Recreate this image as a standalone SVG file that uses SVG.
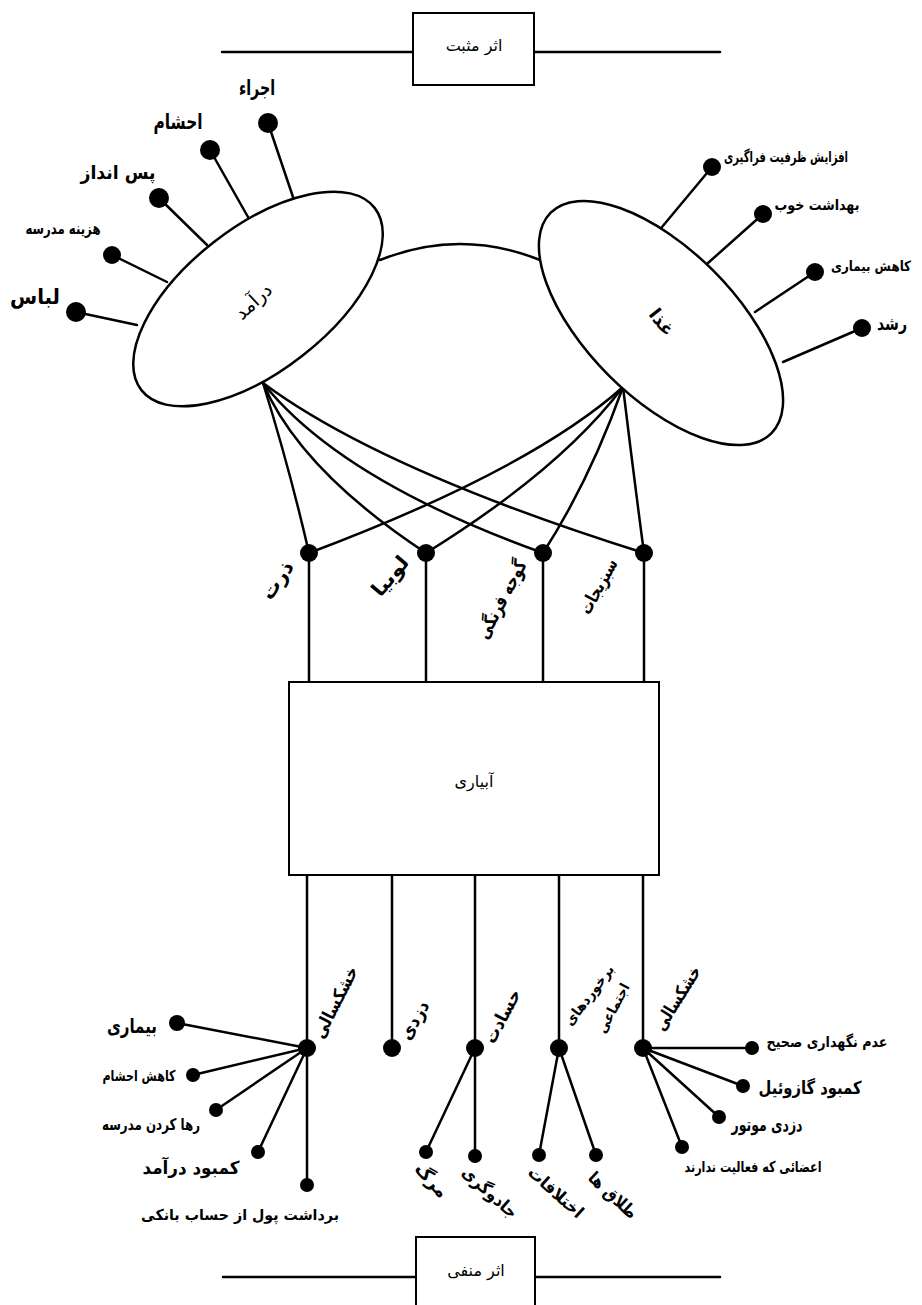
<svg xmlns="http://www.w3.org/2000/svg" width="922" height="1305" viewBox="0 0 922 1305">
<style>
.ln{stroke:#000;stroke-width:2.5;fill:none;stroke-linecap:round}
.bx{stroke:#000;stroke-width:2;fill:#fff}
.el{stroke:#000;stroke-width:2.5;fill:#fff}
.dot{fill:#000}
.t{font-family:"DejaVu Sans",sans-serif;font-weight:bold;fill:#000;text-anchor:middle;dominant-baseline:central}
.n{font-weight:normal}
.tb{font-family:"DejaVu Sans",sans-serif;fill:#000;text-anchor:middle;dominant-baseline:central;font-size:16px}
</style>
<rect width="922" height="1305" fill="#fff"/>

<g id="connectors">
  <line class="ln" x1="222" y1="52" x2="413" y2="52"/>
  <line class="ln" x1="534" y1="52" x2="720" y2="52"/>
  <line class="ln" x1="223" y1="1277" x2="416" y2="1277"/>
  <line class="ln" x1="535" y1="1277" x2="720" y2="1277"/>
  <path class="ln" d="M380,260 Q460,228 540,260"/>
  <line class="ln" x1="268" y1="123" x2="293" y2="197"/>
  <line class="ln" x1="210" y1="150" x2="248" y2="217"/>
  <line class="ln" x1="159" y1="198" x2="207" y2="245"/>
  <line class="ln" x1="112" y1="255" x2="167" y2="282"/>
  <line class="ln" x1="76" y1="312" x2="137" y2="325"/>
  <line class="ln" x1="712" y1="167" x2="662" y2="227"/>
  <line class="ln" x1="763" y1="214" x2="708" y2="263"/>
  <line class="ln" x1="815" y1="272" x2="755" y2="312"/>
  <line class="ln" x1="862" y1="328" x2="783" y2="362"/>
  <path class="ln" d="M263,383 Q290,470 309,553"/>
  <path class="ln" d="M263,383 Q300,470 426,553"/>
  <path class="ln" d="M263,383 Q340,480 543,553"/>
  <path class="ln" d="M263,383 Q380,470 644,553"/>
  <path class="ln" d="M623,387 Q530,470 309,553"/>
  <path class="ln" d="M623,387 Q560,470 426,553"/>
  <path class="ln" d="M623,387 Q590,480 543,553"/>
  <path class="ln" d="M623,387 Q633,470 644,553"/>
  <line class="ln" x1="309" y1="553" x2="309" y2="682"/>
  <line class="ln" x1="426" y1="553" x2="426" y2="682"/>
  <line class="ln" x1="543" y1="553" x2="543" y2="682"/>
  <line class="ln" x1="644" y1="553" x2="644" y2="682"/>
  <line class="ln" x1="307" y1="875" x2="307" y2="1185"/>
  <line class="ln" x1="392" y1="875" x2="392" y2="1048"/>
  <line class="ln" x1="475" y1="875" x2="475" y2="1156"/>
  <line class="ln" x1="559" y1="875" x2="559" y2="1048"/>
  <line class="ln" x1="643" y1="875" x2="643" y2="1048"/>
  <line class="ln" x1="307" y1="1048" x2="177" y2="1023"/>
  <line class="ln" x1="307" y1="1048" x2="193" y2="1075"/>
  <line class="ln" x1="307" y1="1048" x2="216" y2="1110"/>
  <line class="ln" x1="307" y1="1048" x2="258" y2="1152"/>
  <line class="ln" x1="475" y1="1048" x2="426" y2="1152"/>
  <line class="ln" x1="559" y1="1048" x2="539" y2="1155"/>
  <line class="ln" x1="559" y1="1048" x2="596" y2="1155"/>
  <line class="ln" x1="643" y1="1048" x2="752" y2="1048"/>
  <line class="ln" x1="643" y1="1048" x2="743" y2="1086"/>
  <line class="ln" x1="643" y1="1048" x2="719" y2="1117"/>
  <line class="ln" x1="643" y1="1048" x2="682" y2="1147"/>
</g>

<g id="positive">
  <rect class="bx" x="413" y="13" width="121" height="72"/>
  <text class="tb" x="474" y="45" font-size="17">اثر مثبت</text>
</g>

<g id="income">
  <ellipse class="el" cx="258" cy="299" rx="148" ry="72" transform="rotate(-38 258 299)"/>
  <text class="t n" x="253" y="301" font-size="19" transform="rotate(-43 253 301)">درآمد</text>
</g>

<g id="food">
  <ellipse class="el" cx="661" cy="323" rx="156" ry="74" transform="rotate(45 661 323)"/>
  <text class="t" x="662" y="322" font-size="18" transform="rotate(52 662 322)">غذا</text>
</g>

<g id="income-items">
  <circle class="dot" cx="268" cy="123" r="10"/><text class="t" x="257" y="88" font-size="21" textLength="36" lengthAdjust="spacingAndGlyphs">اجراء</text>
  <circle class="dot" cx="210" cy="150" r="10"/><text class="t" x="178" y="122" font-size="21" textLength="49" lengthAdjust="spacingAndGlyphs">احشام</text>
  <circle class="dot" cx="159" cy="198" r="10"/><text class="t" x="118" y="172" font-size="19" textLength="75" lengthAdjust="spacingAndGlyphs">پس انداز</text>
  <circle class="dot" cx="112" cy="255" r="9"/><text class="t" x="63" y="228" font-size="16" textLength="75" lengthAdjust="spacingAndGlyphs">هزینه مدرسه</text>
  <circle class="dot" cx="76" cy="312" r="10"/><text class="t" x="35" y="297" font-size="21" textLength="50" lengthAdjust="spacingAndGlyphs">لباس</text>
</g>

<g id="food-items">
  <circle class="dot" cx="712" cy="167" r="9"/><text class="t" x="786" y="157" font-size="15" textLength="124" lengthAdjust="spacingAndGlyphs">افزایش ظرفیت فراگیری</text>
  <circle class="dot" cx="763" cy="214" r="9"/><text class="t" x="817" y="205" font-size="15" textLength="85" lengthAdjust="spacingAndGlyphs">بهداشت خوب</text>
  <circle class="dot" cx="815" cy="272" r="9"/><text class="t" x="871" y="266" font-size="14" textLength="80" lengthAdjust="spacingAndGlyphs">کاهش بیماری</text>
  <circle class="dot" cx="862" cy="328" r="9"/><text class="t" x="892" y="323" font-size="18" textLength="30" lengthAdjust="spacingAndGlyphs">رشد</text>
</g>

<g id="crops">
  <circle class="dot" cx="309" cy="553" r="9"/><text class="t" x="277" y="580" font-size="20" textLength="42" lengthAdjust="spacingAndGlyphs" transform="rotate(-55 277 580)">ذرت</text>
  <circle class="dot" cx="426" cy="553" r="9"/><text class="t" x="390" y="576" font-size="20" textLength="46" lengthAdjust="spacingAndGlyphs" transform="rotate(-50 390 576)">لوبیا</text>
  <circle class="dot" cx="543" cy="553" r="9"/><text class="t" x="501" y="599" font-size="19" textLength="86" lengthAdjust="spacingAndGlyphs" transform="rotate(-62 501 599)">گوجه فرنگی</text>
  <circle class="dot" cx="644" cy="553" r="9"/><text class="t" x="598" y="586" font-size="18" textLength="60" lengthAdjust="spacingAndGlyphs" transform="rotate(-61 598 586)">سبزیجات</text>
</g>

<g id="irrigation">
  <rect class="bx" x="289" y="682" width="370" height="193"/>
  <text class="tb" x="474" y="781" font-size="17">آبیاری</text>
</g>

<g id="drought-left">
  <circle class="dot" cx="307" cy="1048" r="9"/>
  <text class="t" x="335" y="1002" font-size="18" textLength="78" lengthAdjust="spacingAndGlyphs" transform="rotate(-63 335 1002)">خشکسالی</text>
  <circle class="dot" cx="177" cy="1023" r="8"/><text class="t" x="132" y="1026" font-size="20" textLength="50" lengthAdjust="spacingAndGlyphs">بیماری</text>
  <circle class="dot" cx="193" cy="1075" r="7"/><text class="t" x="139" y="1076" font-size="15" textLength="73" lengthAdjust="spacingAndGlyphs">کاهش احشام</text>
  <circle class="dot" cx="216" cy="1110" r="7"/><text class="t" x="151" y="1124" font-size="16" textLength="98" lengthAdjust="spacingAndGlyphs">رها کردن مدرسه</text>
  <circle class="dot" cx="258" cy="1152" r="7"/><text class="t" x="191" y="1167" font-size="18" textLength="97" lengthAdjust="spacingAndGlyphs">کمبود درآمد</text>
  <circle class="dot" cx="307" cy="1185" r="7"/><text class="t" x="240" y="1215" font-size="15" textLength="198" lengthAdjust="spacingAndGlyphs">برداشت پول از حساب بانکی</text>
</g>

<g id="theft">
  <circle class="dot" cx="392" cy="1048" r="9"/>
  <text class="t" x="414" y="1020" font-size="18" textLength="42" lengthAdjust="spacingAndGlyphs" transform="rotate(-60 414 1020)">دزدی</text>
</g>

<g id="jealousy">
  <circle class="dot" cx="475" cy="1048" r="9"/>
  <text class="t" x="502" y="1016" font-size="18" textLength="58" lengthAdjust="spacingAndGlyphs" transform="rotate(-62 502 1016)">حسادت</text>
  <circle class="dot" cx="426" cy="1152" r="7"/><text class="t" x="432" y="1180" font-size="18" textLength="40" lengthAdjust="spacingAndGlyphs" transform="rotate(49 432 1180)">مرگ</text>
  <circle class="dot" cx="475" cy="1156" r="7"/><text class="t" x="490" y="1192" font-size="17" textLength="68" lengthAdjust="spacingAndGlyphs" transform="rotate(42 490 1192)">جادوگری</text>
</g>

<g id="conflicts">
  <circle class="dot" cx="559" cy="1048" r="9"/>
  <text class="t" x="589" y="995" font-size="14" textLength="72" lengthAdjust="spacingAndGlyphs" transform="rotate(-53 589 995)">برخوردهای</text>
  <text class="t" x="613" y="1008" font-size="14" textLength="54" lengthAdjust="spacingAndGlyphs" transform="rotate(-62 613 1008)">اجتماعی</text>
  <circle class="dot" cx="539" cy="1155" r="7"/><text class="t" x="556" y="1192" font-size="17" textLength="68" lengthAdjust="spacingAndGlyphs" transform="rotate(42 556 1192)">اختلافات</text>
  <circle class="dot" cx="596" cy="1155" r="7"/><text class="t" x="613" y="1195" font-size="17" textLength="60" lengthAdjust="spacingAndGlyphs" transform="rotate(43 613 1195)">طلاق ها</text>
</g>

<g id="drought-right">
  <circle class="dot" cx="643" cy="1048" r="9"/>
  <text class="t" x="677" y="998" font-size="18" textLength="72" lengthAdjust="spacingAndGlyphs" transform="rotate(-58 677 998)">خشکسالی</text>
  <circle class="dot" cx="752" cy="1048" r="7"/><text class="t" x="827" y="1042" font-size="15" textLength="121" lengthAdjust="spacingAndGlyphs">عدم نگهداری صحیح</text>
  <circle class="dot" cx="743" cy="1086" r="7"/><text class="t" x="810" y="1087" font-size="18" textLength="103" lengthAdjust="spacingAndGlyphs">کمبود گازوئیل</text>
  <circle class="dot" cx="719" cy="1117" r="7"/><text class="t" x="767" y="1124" font-size="18" textLength="71" lengthAdjust="spacingAndGlyphs">دزدی موتور</text>
  <circle class="dot" cx="682" cy="1147" r="7"/><text class="t" x="753" y="1167" font-size="15" textLength="137" lengthAdjust="spacingAndGlyphs">اعضائی که فعالیت ندارند</text>
</g>

<g id="negative">
  <rect class="bx" x="416" y="1237" width="119" height="80"/>
  <text class="tb" x="476" y="1270" font-size="17">اثر منفی</text>
</g>
</svg>
